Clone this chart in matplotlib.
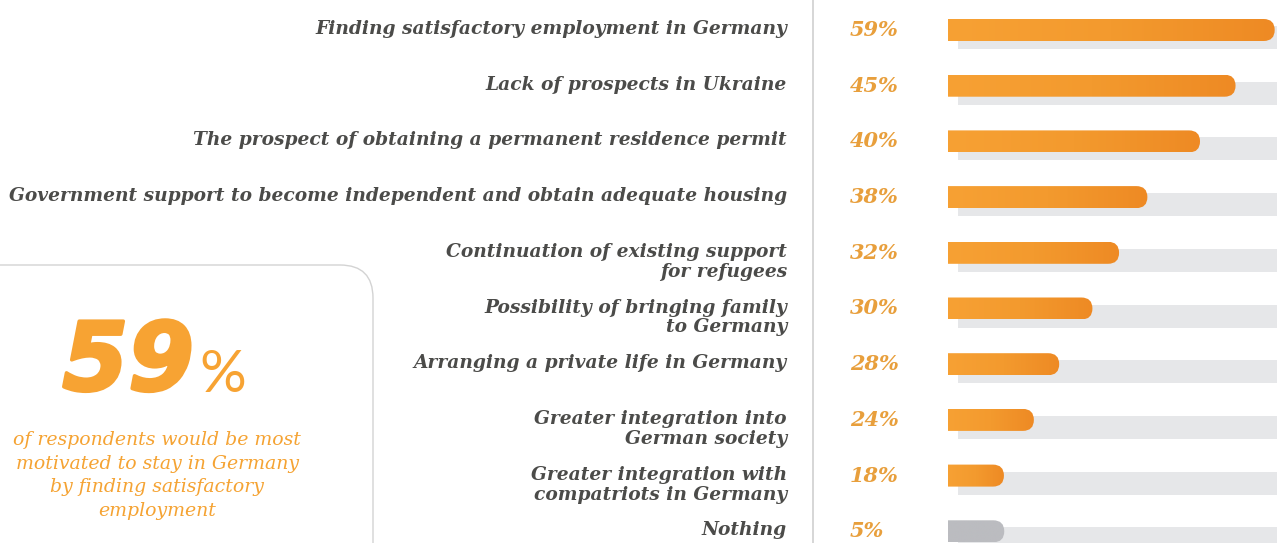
import numpy as np
import matplotlib.pyplot as plt
import matplotlib.patheffects as pe
from matplotlib.patches import FancyBboxPatch
from matplotlib.lines import Line2D
from matplotlib.colors import LinearSegmentedColormap
from matplotlib.transforms import blended_transform_factory

labels = [
    "Finding satisfactory employment in Germany",
    "Lack of prospects in Ukraine",
    "The prospect of obtaining a permanent residence permit",
    "Government support to become independent and obtain adequate housing",
    "Continuation of existing support\nfor refugees",
    "Possibility of bringing family\nto Germany",
    "Arranging a private life in Germany",
    "Greater integration into\nGerman society",
    "Greater integration with\ncompatriots in Germany",
    "Nothing",
]
values = [59, 45, 40, 38, 32, 30, 28, 24, 18, 5]
# bar length as drawn in the original, in % of the grey track
shown = [99.3, 87.4, 76.6, 60.6, 52.0, 43.9, 33.8, 26.1, 17.0, 17.1]
headline = "59"
caption = ["of respondents would be most",
           "motivated to stay in Germany",
           "by finding satisfactory",
           "employment"]

W, H = 1277, 543
fig = plt.figure(figsize=(W / 100, H / 100), dpi=100)
fig.patch.set_facecolor("white")

# pixel-space axes for the side panel
ax0 = fig.add_axes([0, 0, 1, 1], zorder=0)
ax0.set_xlim(0, W)
ax0.set_ylim(H, 0)
ax0.axis("off")

ROW0, STEP = 30, 55.7
ax = fig.add_axes([948 / W, 0, 329 / W, 1], zorder=1)
px_x = 100 / 329
px_y = 1 / STEP

orange = LinearSegmentedColormap.from_list("og", ["#F7A134", "#F39A2E", "#EE8A24"])
greys = LinearSegmentedColormap.from_list("gr", ["#BBBCC0", "#BBBCC0"])
grad = np.linspace(0, 1, 256).reshape(1, -1)

n = len(values)
ypos = np.arange(n)

# grey tracks (offset down/right)
ax.barh(ypos + 7.5 * px_y, 100 - 3.0, left=3.0, height=23 * px_y,
        color="#E6E7E9", lw=0, zorder=1)

h = 22 * px_y
r = 11
for i, (v, s) in enumerate(zip(values, shown)):
    patch = FancyBboxPatch((-r * px_x, i - h / 2), s + r * px_x, h,
                           boxstyle=f"round,pad=0,rounding_size={r * px_x}",
                           mutation_aspect=px_y / px_x, lw=0, fc="none",
                           zorder=2)
    ax.add_patch(patch)
    cm = greys if labels[i] == "Nothing" else orange
    im = ax.imshow(grad, extent=(0, s, i + h / 2, i - h / 2), cmap=cm,
                   aspect="auto", zorder=2, interpolation="bilinear")
    im.set_clip_path(patch)

ax.set_xlim(0, 100)
ax.set_ylim((H - ROW0) / STEP, -ROW0 / STEP)
ax.axis("off")

trans = blended_transform_factory(fig.transFigure, ax.transData)
for i, (lab, v) in enumerate(zip(labels, values)):
    for k, line in enumerate(lab.split("\n")):
        ax.text(787 / W, i + (4 + 20 * k) * px_y, line, transform=trans,
                ha="right", va="baseline", fontsize=13.4, family="DejaVu Serif",
                weight="bold", style="italic", color="#4B4B49")
    ax.text(850 / W, i + 6 * px_y, f"{v}%", transform=trans, ha="left",
            va="baseline", fontsize=15, family="DejaVu Serif", weight="bold",
            style="italic", color="#E89F3C")

fig.add_artist(Line2D([813 / W, 813 / W], [0, 1], transform=fig.transFigure,
                      color="#D0D0D0", lw=1.2))

# rounded info box
box = FancyBboxPatch((-40, 265), 373 + 40, 400,
                     boxstyle="round,pad=0,rounding_size=33",
                     ec="#D3D3D3", fc="none", lw=1)
ax0.add_patch(box)
ax0.text(194, 390, headline, ha="right", va="baseline", fontsize=68,
         family="DejaVu Sans", weight="bold", style="italic", color="#F7A333",
         path_effects=[pe.withStroke(linewidth=2.5, foreground="#F7A333")])
ax0.text(199, 392, "%", ha="left", va="baseline", fontsize=42,
         family="Lato", color="#F7A333")
for k, line in enumerate(caption):
    ax0.text(157, 445 + 23.6 * k, line, ha="center", va="baseline",
             fontsize=13.6, family="DejaVu Serif", style="italic",
             color="#F5A333")

plt.savefig("out.png", dpi=100)
